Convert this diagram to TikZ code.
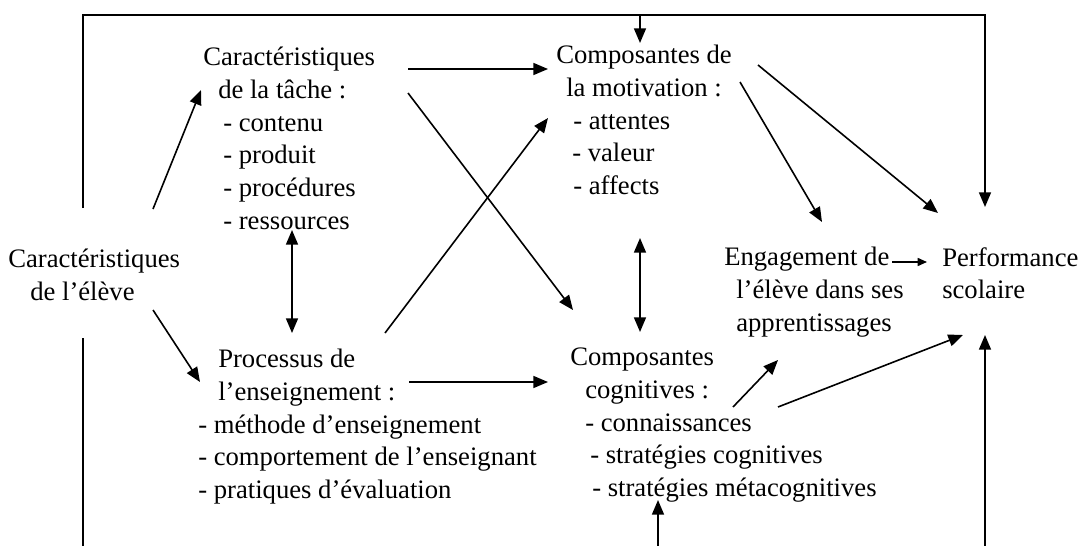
\documentclass[tikz,border=0pt]{standalone}
\usepackage{fontspec}
\setmainfont{Liberation Serif}
\usetikzlibrary{arrows.meta,calc}
\newlength\pxu
\setlength\pxu{0.75pt}
\newcommand\firstst{\rule{0pt}{14pt}}
\begin{document}
\begin{tikzpicture}[x=0.75pt,y=-0.75pt,
  txt/.style={inner sep=0pt, anchor=north west, align=left, font=\fontsize{20}{24.5}\selectfont},
  arr/.style={line width=1.2pt, -{Triangle[length=11pt,width=9pt]}},
  darr/.style={line width=1.2pt, {Triangle[length=11pt,width=9pt]}-{Triangle[length=11pt,width=9pt]}},
  smallarr/.style={line width=1.2pt, -{Triangle[length=7pt,width=6pt]}},
  loopline/.style={line width=1pt}]
\useasboundingbox (0,0) rectangle (1083,546);

% nodes
\node[txt] (T) at (203,47) {\firstst Caractéristiques\\\hspace*{15\pxu}de la tâche :\\\hspace*{20\pxu}- contenu\\\hspace*{20\pxu}- produit\\\hspace*{20\pxu}- procédures\\\hspace*{20\pxu}- ressources};
\node[txt] (E) at (8,249) {\firstst Caractéristiques\\\hspace*{22\pxu}de l’élève};
\node[txt] (P) at (198,349) {\firstst\hspace*{20\pxu}Processus de\\\hspace*{20\pxu}l’enseignement :\\- méthode d’enseignement\\- comportement de l’enseignant\\- pratiques d’évaluation};
\node[txt] (M) at (556,45) {\firstst Composantes de\\\hspace*{10\pxu}la motivation :\\\hspace*{17\pxu}- attentes\\\hspace*{16\pxu}- valeur\\\hspace*{17\pxu}- affects};
\node[txt] (C) at (570,347) {\firstst Composantes\\\hspace*{15\pxu}cognitives :\\\hspace*{15\pxu}- connaissances\\\hspace*{20\pxu}- stratégies cognitives\\\hspace*{22\pxu}- stratégies métacognitives};
\node[txt] (G) at (724,247) {\firstst Engagement de\\\hspace*{12\pxu}l’élève dans ses\\\hspace*{12\pxu}apprentissages};
\node[txt] (F) at (942,247) {\firstst Performance\\scolaire};

% connectors
\draw[arr] ($(E.north west)+(145,-40)$) -- ($(T.north west)+(-2,43)$);
\draw[arr] ($(E.north west)+(145,61)$) -- ($(P.north west)+(2,33)$);
\draw[darr] ($(T.north west)+(89,183)$) -- ($(P.north west)+(94,-16)$);
\draw[arr] ($(T.north west)+(205,22)$) -- ($(M.north west)+(-8,24)$);
\draw[arr] ($(T.north west)+(205,46)$) -- ($(C.north west)+(3,-37)$);
\draw[arr] ($(P.north west)+(187,-16)$) -- ($(M.north west)+(-8,73)$);
\draw[arr] ($(P.north west)+(211,33)$) -- ($(C.north west)+(-22,35)$);
\draw[darr] ($(M.north west)+(84,193)$) -- ($(C.north west)+(70,-15)$);
\draw[arr] ($(M.north west)+(184,37)$) -- ($(G.north west)+(98,-25)$);
\draw[arr] ($(M.north west)+(202,20)$) -- ($(F.north west)+(-4,-34)$);
\draw[arr] ($(C.north west)+(163,60)$) -- ($(G.north west)+(54,113)$);
\draw[arr] ($(C.north west)+(208,60)$) -- ($(F.north west)+(21,88)$);
\draw[smallarr] ($(G.north west)+(168,15)$) -- ($(F.north west)+(-15,15)$);

% feedback lines
\coordinate (topM) at (640,15);
\coordinate (botL) at (83,546);
\coordinate (botM) at (658,546);
\coordinate (botR) at (985,546);
\draw[loopline] ($(E.north west)+(75,-41)$) |- (topM);
\draw[arr] (topM) -| ($(F.north west)+(43,-40)$);
\draw[arr] (topM) -- ($(M.north west)+(84,-2)$);
\draw[loopline] ($(E.north west)+(75,89)$) -- (botL);
\draw[arr] (botM) -- ($(C.north west)+(88,153)$);
\draw[arr] (botR) -- ($(F.north west)+(43,88)$);
\end{tikzpicture}
\end{document}
